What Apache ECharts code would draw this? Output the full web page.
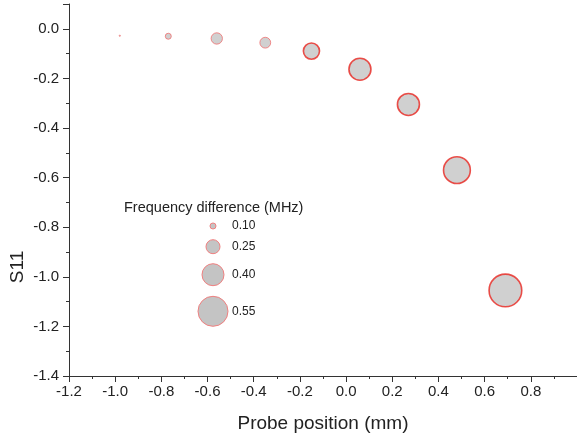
<!DOCTYPE html>
<html>
<head>
<meta charset="utf-8">
<script src="https://cdn.jsdelivr.net/npm/echarts@6/dist/echarts.min.js"></script>
<style>html,body{margin:0;padding:0;background:#fff}#c{width:577px;height:441px}</style>
</head>
<body>
<div id="c"></div>
<script>
// Data
const probePosition = [-0.98, -0.77, -0.56, -0.35, -0.15, 0.06, 0.27, 0.48, 0.69];
const s11Values = [-0.028, -0.030, -0.039, -0.056, -0.090, -0.163, -0.305, -0.570, -1.055];
const freqDifference = [0.01, 0.10, 0.20, 0.19, 0.29, 0.40, 0.40, 0.49, 0.60];
const legendValues = [0.10, 0.25, 0.40, 0.55];
const legendLabels = ['0.10', '0.25', '0.40', '0.55'];
const xAxisName = 'Probe position (mm)';
const yAxisName = 'S11';
const legendTitle = 'Frequency difference (MHz)';

function bubbleDiameter(v) { return 53.33 * v + 0.67; }

const font = 'Arial, "Liberation Sans", sans-serif';
const chart = echarts.init(document.getElementById('c'));

const seriesData = probePosition.map((x, i) => ({
  value: [x, s11Values[i], freqDifference[i]],
  itemStyle: freqDifference[i] < 0.25
    ? { color: '#c4c4c4', borderColor: '#f07070', borderWidth: 1 }
    : { color: '#c4c4c4', borderColor: '#e8251f', borderWidth: 1.6 }
}));

// legend drawn as graphic elements
const legendX = 213;
const legendYs = [226, 246.7, 274.7, 311.3];
const graphics = [
  { type: 'text', left: 124, top: 200, style: { text: legendTitle, font: '14.5px ' + font, fill: '#222' } },
  { type: 'text', x: 18, y: 267, rotation: Math.PI / 2,
    style: { text: yAxisName, font: '19px ' + font, fill: '#222', align: 'center', verticalAlign: 'middle' } }
];
legendValues.forEach((v, i) => {
  graphics.push({ type: 'circle', shape: { cx: legendX, cy: legendYs[i], r: bubbleDiameter(v) / 2 },
    style: { fill: '#c4c4c4', stroke: '#f08080', lineWidth: 1 } });
  graphics.push({ type: 'text', x: 232, y: legendYs[i], style: { text: legendLabels[i], font: '12px ' + font, fill: '#222', verticalAlign: 'middle' } });
});

chart.setOption({
  backgroundColor: '#fff',
  animation: false,
  grid: { left: 69, right: 0, top: 4, bottom: 65, containLabel: false },
  xAxis: {
    type: 'value', min: -1.2, max: 1.0, interval: 0.2,
    name: xAxisName, nameLocation: 'middle', nameGap: 38,
    nameTextStyle: { fontSize: 19, fontFamily: font, color: '#222' },
    axisLine: { show: true, onZero: false, lineStyle: { color: '#333', width: 1 } },
    axisTick: { show: true, inside: false, length: 6, lineStyle: { color: '#333' } },
    minorTick: { show: true, splitNumber: 2, length: 3, lineStyle: { color: '#333' } },
    splitLine: { show: false },
    axisLabel: { fontSize: 15, fontFamily: font, color: '#222', margin: 8, showMaxLabel: false,
      formatter: v => v.toFixed(1) }
  },
  yAxis: {
    type: 'value', min: -1.4, max: 0.1, interval: 0.2,
    axisLine: { show: true, onZero: false, lineStyle: { color: '#333', width: 1 } },
    axisTick: { show: true, inside: false, length: 6, lineStyle: { color: '#333' } },
    minorTick: { show: true, splitNumber: 2, length: 3, lineStyle: { color: '#333' } },
    splitLine: { show: false },
    axisLabel: { fontSize: 15, fontFamily: font, color: '#222', margin: 10, showMaxLabel: false,
      formatter: v => v.toFixed(1) }
  },
  graphic: graphics,
  series: [{
    type: 'scatter',
    data: seriesData,
    symbol: 'circle',
    symbolSize: d => bubbleDiameter(d[2])
  }]
});
</script>
</body>
</html>
